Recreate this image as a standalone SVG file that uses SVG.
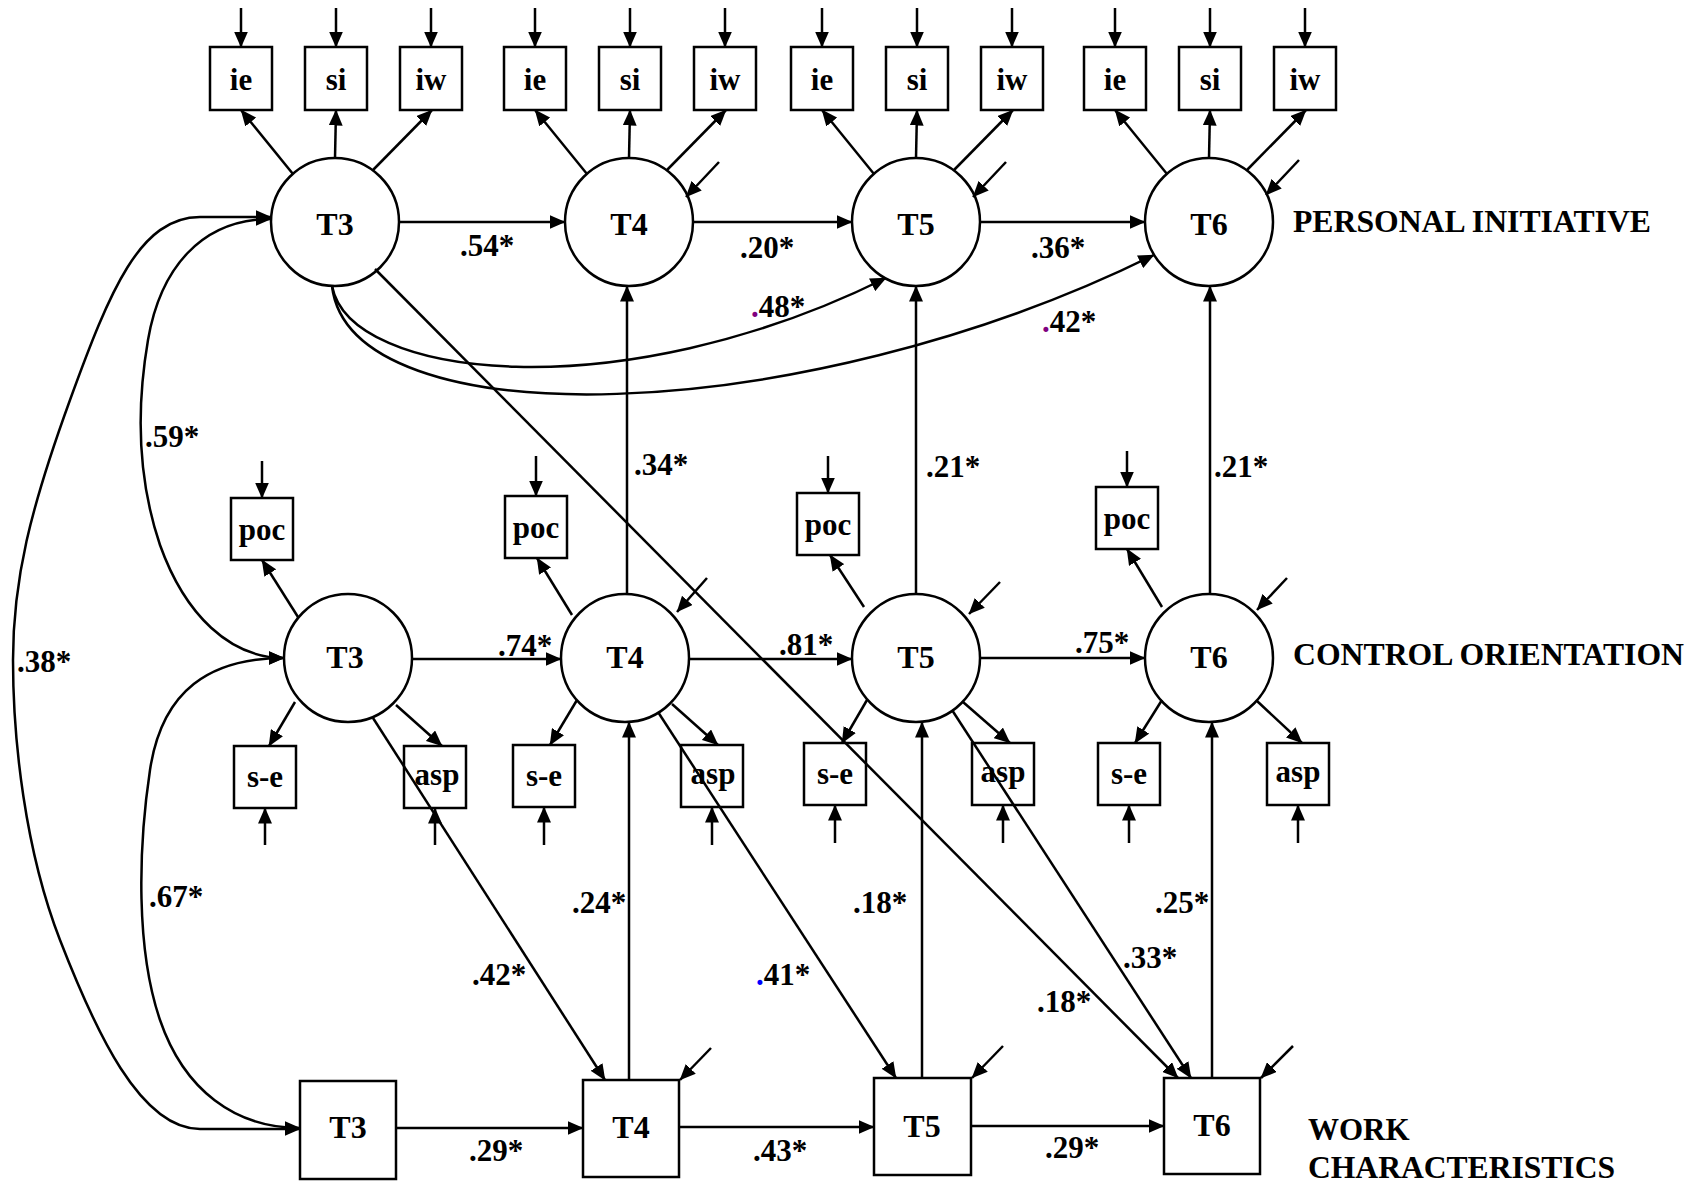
<svg xmlns="http://www.w3.org/2000/svg" width="1699" height="1182" viewBox="0 0 1699 1182">
<style>
text{font-family:"Liberation Serif","Times New Roman",serif;font-weight:bold;fill:#000}
.n{fill:none;stroke:#000;stroke-width:2.5}
.c{fill:none;stroke:#000;stroke-width:2.5;marker-end:url(#ah)}
.b{fill:none;stroke:#000;stroke-width:2.5;marker-end:url(#ah);marker-start:url(#ahs)}
.l{font-size:32px;text-anchor:middle}
.i{font-size:31px;text-anchor:middle}
.w{font-size:31px}
.cat{font-size:31px}
</style>
<defs>
<marker id="ah" markerUnits="userSpaceOnUse" markerWidth="16" markerHeight="14" viewBox="0 0 16 14" refX="15.5" refY="7" orient="auto"><path d="M0,0 L16,7 L0,14 z" fill="#000"/></marker>
<marker id="ahs" markerUnits="userSpaceOnUse" markerWidth="16" markerHeight="14" viewBox="0 0 16 14" refX="15.5" refY="7" orient="auto-start-reverse"><path d="M0,0 L16,7 L0,14 z" fill="#000"/></marker>
</defs>

<g id="connectors">
<!-- PI residuals into indicators -->
<line class="c" x1="241" y1="8" x2="241" y2="47"/>
<line class="c" x1="336" y1="8" x2="336" y2="47"/>
<line class="c" x1="431" y1="8" x2="431" y2="47"/>
<line class="c" x1="535" y1="8" x2="535" y2="47"/>
<line class="c" x1="630" y1="8" x2="630" y2="47"/>
<line class="c" x1="725" y1="8" x2="725" y2="47"/>
<line class="c" x1="822" y1="8" x2="822" y2="47"/>
<line class="c" x1="917" y1="8" x2="917" y2="47"/>
<line class="c" x1="1012" y1="8" x2="1012" y2="47"/>
<line class="c" x1="1115" y1="8" x2="1115" y2="47"/>
<line class="c" x1="1210" y1="8" x2="1210" y2="47"/>
<line class="c" x1="1305" y1="8" x2="1305" y2="47"/>
<!-- PI factor to indicators -->
<line class="c" x1="293" y1="174" x2="241" y2="110"/>
<line class="c" x1="335" y1="158" x2="336" y2="110"/>
<line class="c" x1="373" y1="170" x2="432" y2="110"/>
<line class="c" x1="587" y1="174" x2="535" y2="110"/>
<line class="c" x1="629" y1="158" x2="630" y2="110"/>
<line class="c" x1="667" y1="170" x2="726" y2="110"/>
<line class="c" x1="874" y1="174" x2="822" y2="110"/>
<line class="c" x1="916" y1="158" x2="917" y2="110"/>
<line class="c" x1="954" y1="170" x2="1013" y2="110"/>
<line class="c" x1="1167" y1="174" x2="1115" y2="110"/>
<line class="c" x1="1209" y1="158" x2="1210" y2="110"/>
<line class="c" x1="1247" y1="170" x2="1306" y2="110"/>
<!-- PI disturbances -->
<line class="c" x1="719" y1="162" x2="686" y2="197"/>
<line class="c" x1="1006" y1="162" x2="973" y2="197"/>
<line class="c" x1="1299" y1="160" x2="1266" y2="195"/>
<!-- PI horizontals -->
<line class="c" x1="399" y1="222" x2="565" y2="222"/>
<line class="c" x1="693" y1="222" x2="852" y2="222"/>
<line class="c" x1="980" y1="222" x2="1145" y2="222"/>
<!-- PI lag-2 / lag-3 curves -->
<path class="c" d="M332 286 C350 380 620 410 886 278"/>
<path class="c" d="M332 286 C350 440 800 430 1154 255"/>

<!-- CO residuals into indicators -->
<line class="c" x1="262" y1="461" x2="262" y2="498"/>
<line class="c" x1="536" y1="456" x2="536" y2="496"/>
<line class="c" x1="828" y1="456" x2="828" y2="493"/>
<line class="c" x1="1127" y1="451" x2="1127" y2="487"/>
<line class="c" x1="265" y1="845" x2="265" y2="808"/>
<line class="c" x1="435" y1="845" x2="435" y2="808"/>
<line class="c" x1="544" y1="845" x2="544" y2="807"/>
<line class="c" x1="712" y1="845" x2="712" y2="807"/>
<line class="c" x1="835" y1="843" x2="835" y2="805"/>
<line class="c" x1="1003" y1="843" x2="1003" y2="805"/>
<line class="c" x1="1129" y1="843" x2="1129" y2="805"/>
<line class="c" x1="1298" y1="843" x2="1298" y2="805"/>
<!-- CO factor to indicators -->
<line class="c" x1="298" y1="617" x2="262" y2="560"/>
<line class="c" x1="295" y1="702" x2="269" y2="746"/>
<line class="c" x1="396" y1="705" x2="442" y2="746"/>
<line class="c" x1="572" y1="615" x2="537" y2="558"/>
<line class="c" x1="577" y1="700" x2="550" y2="745"/>
<line class="c" x1="672" y1="704" x2="718" y2="745"/>
<line class="c" x1="864" y1="607" x2="830" y2="555"/>
<line class="c" x1="867" y1="700" x2="842" y2="743"/>
<line class="c" x1="963" y1="702" x2="1010" y2="743"/>
<line class="c" x1="1162" y1="607" x2="1127" y2="549"/>
<line class="c" x1="1162" y1="700" x2="1135" y2="743"/>
<line class="c" x1="1257" y1="701" x2="1302" y2="743"/>
<!-- CO disturbances -->
<line class="c" x1="707" y1="578" x2="677" y2="612"/>
<line class="c" x1="1000" y1="582" x2="969" y2="614"/>
<line class="c" x1="1287" y1="578" x2="1257" y2="610"/>
<!-- CO horizontals -->
<line class="c" x1="412" y1="659" x2="561" y2="659"/>
<line class="c" x1="689" y1="659" x2="852" y2="659"/>
<line class="c" x1="980" y1="658" x2="1145" y2="658"/>

<!-- verticals -->
<line class="c" x1="629" y1="1080" x2="629" y2="722"/>
<line class="c" x1="627" y1="594" x2="627" y2="286"/>
<line class="c" x1="922" y1="1078" x2="922" y2="722"/>
<line class="c" x1="916" y1="594" x2="916" y2="286"/>
<line class="c" x1="1212" y1="1078" x2="1212" y2="722"/>
<line class="c" x1="1210" y1="594" x2="1210" y2="286"/>

<!-- diagonals -->
<line class="c" x1="373" y1="718" x2="605" y2="1080"/>
<line class="c" x1="658" y1="712" x2="896" y2="1078"/>
<line class="c" x1="952" y1="710" x2="1191" y2="1078"/>
<line class="c" x1="375" y1="269" x2="1178" y2="1078"/>

<!-- WC horizontals and disturbances -->
<line class="c" x1="396" y1="1128" x2="583" y2="1128"/>
<line class="c" x1="679" y1="1127" x2="874" y2="1127"/>
<line class="c" x1="971" y1="1126" x2="1164" y2="1126"/>
<line class="c" x1="711" y1="1048" x2="680" y2="1080"/>
<line class="c" x1="1003" y1="1046" x2="972" y2="1078"/>
<line class="c" x1="1293" y1="1046" x2="1261" y2="1078"/>

<!-- covariances -->
<path class="b" d="M271 217 L200 217 C140 217 110 290 70 400 C30 510 13 580 13 660 C13 740 25 850 60 940 C95 1030 140 1129 200 1129 L300 1129"/>
<path class="b" d="M271 219 C200 219 160 270 148 340 C136 410 138 480 160 545 C185 615 230 658 284 658"/>
<path class="b" d="M284 658 C210 658 162 690 150 770 C138 850 136 950 160 1020 C184 1090 235 1128 300 1128"/>

<!-- edge labels -->
<text class="w" x="460" y="256">.54*</text>
<text class="w" x="740" y="258">.20*</text>
<text class="w" x="1031" y="258">.36*</text>
<text class="w" x="751" y="317"><tspan fill="#800080">.</tspan>48*</text>
<text class="w" x="1042" y="332"><tspan fill="#800080">.</tspan>42*</text>
<text class="w" x="145" y="447">.59*</text>
<text class="w" x="634" y="475">.34*</text>
<text class="w" x="926" y="477">.21*</text>
<text class="w" x="1214" y="477">.21*</text>
<text class="w" x="17" y="672">.38*</text>
<text class="w" x="498" y="656">.74*</text>
<text class="w" x="779" y="655">.81*</text>
<text class="w" x="1075" y="653">.75*</text>
<text class="w" x="149" y="907">.67*</text>
<text class="w" x="572" y="913">.24*</text>
<text class="w" x="472" y="985">.42*</text>
<text class="w" x="756" y="985"><tspan fill="#0000ff">.</tspan>41*</text>
<text class="w" x="853" y="913">.18*</text>
<text class="w" x="1155" y="913">.25*</text>
<text class="w" x="1123" y="968">.33*</text>
<text class="w" x="1037" y="1012">.18*</text>
<text class="w" x="469" y="1161">.29*</text>
<text class="w" x="753" y="1161">.43*</text>
<text class="w" x="1045" y="1158">.29*</text>
</g>

<!-- Personal initiative -->
<g id="pi_t3"><circle class="n" cx="335" cy="222" r="64"/><text class="l" x="335" y="235">T3</text></g>
<g id="pi_t4"><circle class="n" cx="629" cy="222" r="64"/><text class="l" x="629" y="235">T4</text></g>
<g id="pi_t5"><circle class="n" cx="916" cy="222" r="64"/><text class="l" x="916" y="235">T5</text></g>
<g id="pi_t6"><circle class="n" cx="1209" cy="222" r="64"/><text class="l" x="1209" y="235">T6</text></g>

<g id="pi_t3_ie"><rect class="n" x="210" y="47" width="62" height="63"/><text class="i" x="241" y="90">ie</text></g>
<g id="pi_t3_si"><rect class="n" x="305" y="47" width="62" height="63"/><text class="i" x="336" y="90">si</text></g>
<g id="pi_t3_iw"><rect class="n" x="400" y="47" width="62" height="63"/><text class="i" x="431" y="90">iw</text></g>
<g id="pi_t4_ie"><rect class="n" x="504" y="47" width="62" height="63"/><text class="i" x="535" y="90">ie</text></g>
<g id="pi_t4_si"><rect class="n" x="599" y="47" width="62" height="63"/><text class="i" x="630" y="90">si</text></g>
<g id="pi_t4_iw"><rect class="n" x="694" y="47" width="62" height="63"/><text class="i" x="725" y="90">iw</text></g>
<g id="pi_t5_ie"><rect class="n" x="791" y="47" width="62" height="63"/><text class="i" x="822" y="90">ie</text></g>
<g id="pi_t5_si"><rect class="n" x="886" y="47" width="62" height="63"/><text class="i" x="917" y="90">si</text></g>
<g id="pi_t5_iw"><rect class="n" x="981" y="47" width="62" height="63"/><text class="i" x="1012" y="90">iw</text></g>
<g id="pi_t6_ie"><rect class="n" x="1084" y="47" width="62" height="63"/><text class="i" x="1115" y="90">ie</text></g>
<g id="pi_t6_si"><rect class="n" x="1179" y="47" width="62" height="63"/><text class="i" x="1210" y="90">si</text></g>
<g id="pi_t6_iw"><rect class="n" x="1274" y="47" width="62" height="63"/><text class="i" x="1305" y="90">iw</text></g>

<!-- Control orientation -->
<g id="co_t3"><circle class="n" cx="348" cy="658" r="64"/><text class="l" x="345" y="668">T3</text></g>
<g id="co_t4"><circle class="n" cx="625" cy="658" r="64"/><text class="l" x="625" y="668">T4</text></g>
<g id="co_t5"><circle class="n" cx="916" cy="658" r="64"/><text class="l" x="916" y="668">T5</text></g>
<g id="co_t6"><circle class="n" cx="1209" cy="658" r="64"/><text class="l" x="1209" y="668">T6</text></g>

<g id="co_t3_poc"><rect class="n" x="231" y="498" width="62" height="62"/><text class="i" x="262" y="540">poc</text></g>
<g id="co_t4_poc"><rect class="n" x="505" y="496" width="62" height="62"/><text class="i" x="536" y="538">poc</text></g>
<g id="co_t5_poc"><rect class="n" x="797" y="493" width="62" height="62"/><text class="i" x="828" y="535">poc</text></g>
<g id="co_t6_poc"><rect class="n" x="1096" y="487" width="62" height="62"/><text class="i" x="1127" y="529">poc</text></g>
<g id="co_t3_se"><rect class="n" x="234" y="746" width="62" height="62"/><text class="i" x="265" y="787">s-e</text></g>
<g id="co_t4_se"><rect class="n" x="513" y="745" width="62" height="62"/><text class="i" x="544" y="786">s-e</text></g>
<g id="co_t5_se"><rect class="n" x="804" y="743" width="62" height="62"/><text class="i" x="835" y="784">s-e</text></g>
<g id="co_t6_se"><rect class="n" x="1098" y="743" width="62" height="62"/><text class="i" x="1129" y="784">s-e</text></g>
<g id="co_t3_asp"><rect class="n" x="404" y="746" width="62" height="62"/><text class="i" x="437" y="785">asp</text></g>
<g id="co_t4_asp"><rect class="n" x="681" y="745" width="62" height="62"/><text class="i" x="713" y="784">asp</text></g>
<g id="co_t5_asp"><rect class="n" x="972" y="743" width="62" height="62"/><text class="i" x="1003" y="782">asp</text></g>
<g id="co_t6_asp"><rect class="n" x="1267" y="743" width="62" height="62"/><text class="i" x="1298" y="782">asp</text></g>

<!-- Work characteristics -->
<g id="wc_t3"><rect class="n" x="300" y="1081" width="96" height="98"/><text class="l" x="348" y="1138">T3</text></g>
<g id="wc_t4"><rect class="n" x="583" y="1080" width="96" height="97"/><text class="l" x="631" y="1138">T4</text></g>
<g id="wc_t5"><rect class="n" x="874" y="1078" width="97" height="97"/><text class="l" x="922" y="1137">T5</text></g>
<g id="wc_t6"><rect class="n" x="1164" y="1078" width="96" height="96"/><text class="l" x="1212" y="1136">T6</text></g>

<!-- Construct labels -->
<text class="cat" x="1293" y="232" textLength="358" lengthAdjust="spacingAndGlyphs">PERSONAL INITIATIVE</text>
<text class="cat" x="1293" y="665" textLength="391" lengthAdjust="spacingAndGlyphs">CONTROL ORIENTATION</text>
<text class="cat" x="1308" y="1140">WORK</text>
<text class="cat" x="1308" y="1178" textLength="307" lengthAdjust="spacingAndGlyphs">CHARACTERISTICS</text>
</svg>
